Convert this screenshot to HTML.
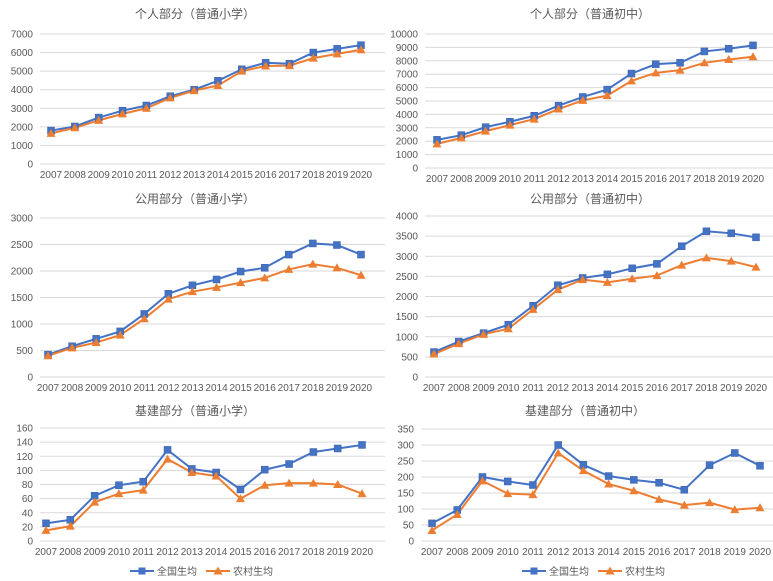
<!DOCTYPE html><html><head><meta charset="utf-8"><style>body{margin:0;background:#fff}svg{display:block}text{font-family:"Liberation Sans","Noto Sans CJK SC",sans-serif;fill:#595959}</style></head><body>
<svg id="s" width="773" height="581" xmlns="http://www.w3.org/2000/svg"></svg>
<script>
const C=[
{t:"个人部分（普通小学）",tx:195,ty:13,gl:40,gr:385,x0:51,x1:361,yt:34,yb:164,max:7000,step:1000,lx:33,
b:[1800,2020,2500,2870,3150,3650,4000,4480,5100,5450,5400,6000,6200,6400],o:[1650,1950,2350,2700,3000,3560,3950,4230,5000,5280,5300,5700,5930,6150]},
{t:"个人部分（普通初中）",tx:590,ty:13,gl:425,gr:773,x0:437,x1:753,yt:34,yb:168,max:10000,step:1000,lx:418,
b:[2100,2450,3050,3450,3900,4650,5300,5850,7050,7750,7850,8700,8900,9150],o:[1800,2250,2750,3200,3650,4400,5050,5400,6500,7100,7300,7850,8100,8300]},
{t:"公用部分（普通小学）",tx:195,ty:198,gl:40,gr:385,x0:48,x1:361,yt:218,yb:377,max:3000,step:500,lx:33,
b:[420,580,720,860,1190,1570,1730,1840,1990,2060,2310,2520,2490,2310],o:[400,550,650,790,1100,1470,1610,1690,1780,1870,2030,2130,2060,1920]},
{t:"公用部分（普通初中）",tx:590,ty:198,gl:425,gr:773,x0:434,x1:756,yt:216,yb:377,max:4000,step:500,lx:418,
b:[620,880,1090,1300,1770,2280,2460,2550,2700,2810,3250,3620,3570,3470],o:[570,830,1060,1200,1680,2170,2420,2350,2440,2520,2780,2960,2880,2730]},
{t:"基建部分（普通小学）",tx:195,ty:410,gl:40,gr:385,x0:46,x1:362,yt:428,yb:541,max:160,step:20,lx:33,
b:[25,30,64,79,84,129,102,97,73,101,109,126,131,136],o:[15,21,55,67,72,116,97,92,60,79,82,82,80,67]},
{t:"基建部分（普通初中）",tx:585,ty:410,gl:421,gr:773,x0:432,x1:760,yt:429,yb:541,max:350,step:50,lx:414,
b:[55,97,200,186,175,300,238,203,191,182,160,237,275,235],o:[33,83,188,148,145,275,220,178,157,130,112,120,98,104]}];
let h="";
for(const c of C){
 h+=`<text x="${c.tx}" y="${c.ty+5}" font-size="12" text-anchor="middle" fill="#404040">${c.t}</text>`;
 const Y=v=>c.yb-(c.yb-c.yt)*v/c.max, X=i=>c.x0+(c.x1-c.x0)*i/13;
 for(let v=0;v<=c.max;v+=c.step){const y=Y(v);h+=`<line x1="${c.gl}" x2="${c.gr}" y1="${y}" y2="${y}" stroke="#d9d9d9"/><text x="${c.lx}" y="${y+3.5}" font-size="10" text-anchor="end">${v}</text>`;}
 for(let i=0;i<14;i++)h+=`<text x="${X(i)}" y="${c.yb+14}" font-size="10" text-anchor="middle">${2007+i}</text>`;
 h+=`<polyline fill="none" stroke="#4472C4" stroke-width="2" points="${c.b.map((v,i)=>X(i)+","+Y(v)).join(" ")}"/>`;
 h+=`<polyline fill="none" stroke="#ED7D31" stroke-width="2" points="${c.o.map((v,i)=>X(i)+","+Y(v)).join(" ")}"/>`;
 c.b.forEach((v,i)=>h+=`<rect x="${X(i)-3.5}" y="${Y(v)-3.5}" width="7" height="7" fill="#4472C4" stroke="#3a62aa" stroke-width="0.5"/>`);
 c.o.forEach((v,i)=>{const x=X(i),y=Y(v);h+=`<polygon points="${x},${y-4.5} ${x+4.5},${y+3.5} ${x-4.5},${y+3.5}" fill="#ED7D31"/>`;});
}
for(const cx of [198,590]){
 const x=cx-68,y=571;
 h+=`<line x1="${x}" x2="${x+24}" y1="${y}" y2="${y}" stroke="#4472C4" stroke-width="2"/><rect x="${x+8.5}" y="${y-3.5}" width="7" height="7" fill="#4472C4"/><text x="${x+27}" y="${y+4}" font-size="10">全国生均</text>`;
 h+=`<line x1="${x+76}" x2="${x+100}" y1="${y}" y2="${y}" stroke="#ED7D31" stroke-width="2"/><polygon points="${x+88},${y-4.5} ${x+92.5},${y+3.5} ${x+83.5},${y+3.5}" fill="#ED7D31"/><text x="${x+103}" y="${y+4}" font-size="10">农村生均</text>`;
}
document.getElementById("s").innerHTML=h;
</script></body></html>
